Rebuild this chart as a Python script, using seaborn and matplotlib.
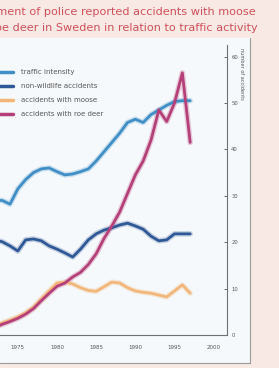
import matplotlib
matplotlib.use('Agg')
import matplotlib.pyplot as plt
import matplotlib.patches as mpatches
from matplotlib.lines import Line2D
import pandas as pd
import seaborn as sns

# Data (right axis units)
years = list(range(1970, 1998))
traffic = [27.5, 28.5, 29.0, 29.0, 28.2, 31.5, 33.5, 35.0, 35.8, 36.0, 35.2, 34.5, 34.7, 35.2,
           35.8, 37.5, 39.5, 41.5, 43.5, 45.8, 46.5, 45.8, 47.5, 48.5, 49.5, 50.3, 50.5, 50.5]
non_wildlife = [21.0, 20.5, 20.5, 20.1, 19.2, 18.1, 20.5, 20.7, 20.3, 19.2, 18.5, 17.7, 16.8, 18.5,
                20.5, 21.8, 22.6, 23.1, 23.7, 24.1, 23.5, 22.8, 21.3, 20.3, 20.5, 21.8, 21.8, 21.8]
moose = [1.0, 1.3, 1.8, 2.6, 3.2, 3.9, 4.8, 6.0, 7.8, 9.5, 11.2, 11.4, 11.0, 10.2,
         9.6, 9.4, 10.4, 11.4, 11.2, 10.2, 9.5, 9.2, 9.0, 8.6, 8.2, 9.5, 10.8, 9.0]
roe_deer = [0.8, 1.1, 1.6, 2.3, 2.9, 3.6, 4.5, 5.7, 7.4, 9.0, 10.5, 11.2, 12.5, 13.5,
            15.2, 17.5, 20.8, 23.5, 26.5, 30.5, 34.5, 37.5, 42.0, 48.5, 46.0, 50.0, 56.5, 41.5]

labels = ['traffic intensity', 'non-wildlife accidents', 'accidents with moose', 'accidents with roe deer']
colors = ['#3f8fc6', '#2f5896', '#f2b67a', '#b53f78']
x_ticks = [1975, 1980, 1985, 1990, 1995, 2000]
y_ticks = [0, 10, 20, 30, 40, 50, 60]

df = pd.DataFrame({'year': years * 4,
                   'value': traffic + non_wildlife + moose + roe_deer,
                   'series': sum([[s] * len(years) for s in labels], [])})

sns.set_style('white')
plt.rcParams['font.family'] = ['DejaVu Sans']

W, H = 279, 368
fig = plt.figure(figsize=(W / 100, H / 100), dpi=100, facecolor='#f8e9e4')

# inner panel of the photographed figure (right and bottom edges visible)
fig.patches.append(mpatches.Rectangle((0, 1 - 363 / H), 250 / W, (363 - 38) / H,
                                      transform=fig.transFigure, facecolor='#f6f9fb',
                                      edgecolor='none', zorder=0))
fig.lines.append(Line2D([0, 250 / W, 250 / W], [1 - 363 / H, 1 - 363 / H, 1 - 38 / H],
                        transform=fig.transFigure, color='#9a9a9a', lw=0.8))

x0, x1 = -37, 227
y0, y1 = 45, 335
ax = fig.add_axes([x0 / W, 1 - y1 / H, (x1 - x0) / W, (y1 - y0) / H])
ax.set_facecolor('none')
ax.set_zorder(2)

# soft halo to mimic the blurry photo, then the actual lines
for lab, col in zip(labels, colors):
    sub = df[df['series'] == lab]
    ax.plot(sub['year'], sub['value'], color=col, lw=4, alpha=0.25, solid_capstyle='round')
sns.lineplot(data=df, x='year', y='value', hue='series', hue_order=labels,
             palette=colors, lw=2, ax=ax)

ax.set_xlim(1968, 2001.7)
ax.set_ylim(0, 62.5)
ax.set_xlabel('')
ax.set_ylabel('')
for s in ['left', 'top']:
    ax.spines[s].set_visible(False)
for s in ['right', 'bottom']:
    ax.spines[s].set_color('#707070')
    ax.spines[s].set_linewidth(0.8)

ax.set_xticks(x_ticks)
ax.set_xticks(years + [1998, 1999, 2000, 2001], minor=True)
ax.set_yticks(y_ticks)
ax.yaxis.tick_right()
ax.tick_params(axis='x', which='major', direction='in', length=3, width=0.6,
               labelsize=4, colors='#555555', pad=7)
ax.tick_params(axis='x', which='minor', direction='in', length=1.5, width=0.5, colors='#888888')
ax.tick_params(axis='y', direction='in', length=2, width=0.6, labelsize=3.8,
               colors='#555555', pad=3)

fig.text(241 / W, 1 - 48 / H, 'number of accidents', rotation=270, ha='center', va='top',
         fontsize=3.6, color='#555555')

leg = ax.legend(loc='upper left', bbox_to_anchor=(-2 / W, 1 - 69 / H), bbox_transform=fig.transFigure,
                frameon=False, fontsize=5, handlelength=2.2, handletextpad=1.1,
                labelspacing=1.15, borderpad=0, borderaxespad=0)
for t in leg.get_texts():
    t.set_color('#555555')
for h in leg.get_lines():
    h.set_linewidth(2.5)

title_col = '#d0505c'
fig.text(256 / W, 1 - 12 / H, 'Development of police reported accidents with moose',
         ha='right', va='center', fontsize=8.1, color=title_col)
fig.text(258 / W, 1 - 28 / H, 'and roe deer in Sweden in relation to traffic activity',
         ha='right', va='center', fontsize=8.1, color=title_col)

fig.savefig('out.png', dpi=100, facecolor=fig.get_facecolor())
